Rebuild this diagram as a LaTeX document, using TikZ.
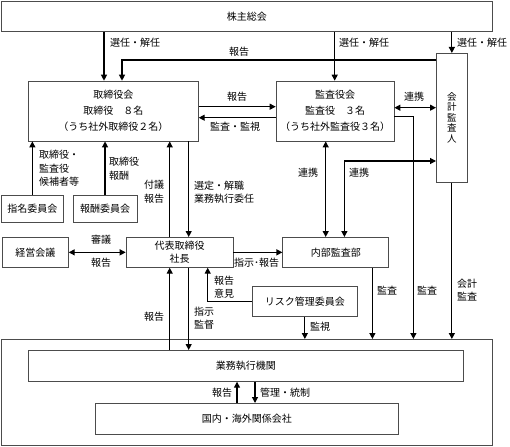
\documentclass[tikz,border=0pt]{standalone}
\usepackage{fontspec}
\setmainfont{Noto Sans CJK JP}
\usetikzlibrary{arrows.meta, positioning}
\tikzset{
    box/.style={rectangle, draw=black!70, line width=0.7pt, inner sep=0pt, align=center, font=\fontsize{10}{16}\selectfont},
    vbox/.style={box, font=\fontsize{9.5}{10.5}\selectfont},
    annot/.style={inner sep=0pt, anchor=west, align=left, font=\fontsize{10}{13.5}\selectfont},
    arrow/.style={-{Triangle[length=6pt, width=6pt]}, line width=1.2pt},
    bothways/.style={{Triangle[length=6pt, width=6pt]}-{Triangle[length=6pt, width=6pt]}, line width=1.2pt}
}

\begin{document}
\begin{tikzpicture}[x=1pt, y=-1pt]
    \useasboundingbox (0,0) rectangle (510,446);

    % Shareholders meeting (top)
    \node[box, anchor=north west, minimum width=491pt, minimum height=30pt] (kabunushi) at (1,1) {株主総会};

    % Board, auditors, accounting auditor
    \node[box, below right=49pt and 27pt of kabunushi.south west, minimum width=170pt, minimum height=60pt] (torishimari) {取締役会\\取締役　８名\\（うち社外取締役２名）};
    \node[box, right=77pt of torishimari.north east, anchor=north west, minimum width=118pt, minimum height=60pt] (kansayaku) {監査役会\\監査役　３名\\（うち社外監査役３名）};
    \node[vbox, anchor=north west, minimum width=31pt, minimum height=129pt] (kaikei) at (436,53) {会\\計\\監\\査\\人};

    % Committees
    \node[box, anchor=north west, minimum width=62pt, minimum height=27pt] (shimei) at (1,195) {指名委員会};
    \node[box, right=9pt of shimei, minimum width=64pt, minimum height=27pt] (hoshu) {報酬委員会};

    % Executive row
    \node[box, anchor=north west, minimum width=66pt, minimum height=30pt] (keiei) at (2,237) {経営会議};
    \node[box, right=57pt of keiei, minimum width=107pt, minimum height=30pt, font=\fontsize{10}{13}\selectfont] (daihyo) {代表取締役\\社長};
    \node[box, right=49pt of daihyo, minimum width=106pt, minimum height=30pt] (naibu) {内部監査部};
    \node[box, anchor=north west, minimum width=105pt, minimum height=30pt] (risk) at (252,286) {リスク管理委員会};

    % Business execution (bottom)
    \node[box, anchor=north west, minimum width=491pt, minimum height=106pt] (shikko) at (1,339) {};
    \node[box, anchor=north west, minimum width=435pt, minimum height=31pt] (gyomu) at (28,350) {業務執行機関};
    \node[box, anchor=north west, minimum width=303pt, minimum height=31pt] (kankei) at (95,403) {国内・海外関係会社};

    % Connector points
    \coordinate (t_sen) at ([xshift=76pt]torishimari.north west);
    \coordinate (t_hok) at ([xshift=94pt]torishimari.north west);
    \coordinate (k_sen) at ([xshift=59pt]kansayaku.north west);
    \coordinate (a_hok) at ([yshift=-7pt]kaikei.north west);
    \coordinate (k_ren) at ([yshift=-27pt]kansayaku.north east);
    \coordinate (k_out) at ([yshift=-36pt]kansayaku.north east);
    \coordinate (k_down) at ([xshift=19pt]kansayaku.north east);
    \coordinate (k_nai) at ([xshift=50pt]kansayaku.south west);
    \coordinate (n_ren) at ([xshift=62pt]naibu.north west);
    \coordinate (a_ren) at ([yshift=-108pt]kaikei.north west);
    \coordinate (n_kan) at ([xshift=90pt]naibu.south west);
    \coordinate (d_up) at ([xshift=44pt]daihyo.north west);
    \coordinate (d_down) at ([xshift=63pt]daihyo.north west);
    \coordinate (d_hok) at ([xshift=44pt]daihyo.south west);
    \coordinate (d_shi) at ([xshift=63pt]daihyo.south west);
    \coordinate (d_ike) at ([xshift=82pt]daihyo.south west);
    \coordinate (g_hok) at ([xshift=142pt]kankei.north west);
    \coordinate (g_kan) at ([xshift=160pt]kankei.north west);

    % Lines
    \draw[arrow] (kabunushi.south -| t_sen) -- (t_sen);
    \draw[arrow] (kabunushi.south -| k_sen) -- (k_sen);
    \draw[arrow] (kabunushi.south -| kaikei.north) -- (kaikei.north);
    \draw[arrow] (a_hok) -| (t_hok);
    \draw[arrow] ([yshift=-26pt]torishimari.north east) -- ([yshift=-26pt]kansayaku.north west);
    \draw[arrow] ([yshift=-37pt]kansayaku.north west) -- ([yshift=-37pt]torishimari.north east);
    \draw[bothways] (k_ren) -- (k_ren -| kaikei.west);
    \draw[arrow] (k_out) -- (k_out -| k_down) -- (k_down |- shikko.north);
    \draw[arrow] (kaikei.south) -- (kaikei.south |- shikko.north);
    \draw[bothways] (k_nai) -- (k_nai |- naibu.north);
    \draw[bothways] (n_ren) |- (a_ren);
    \draw[arrow] (n_kan) -- (n_kan |- shikko.north);
    \draw[arrow] (d_up) -- (d_up |- torishimari.south);
    \draw[arrow] (d_down |- torishimari.south) -- (d_down);
    \draw[arrow] (shimei.north) -- (shimei.north |- torishimari.south);
    \draw[arrow] (hoshu.north) -- (hoshu.north |- torishimari.south);
    \draw[bothways] (keiei.east) -- (daihyo.west);
    \draw[arrow] (daihyo.east) -- (naibu.west);
    \draw[arrow] (d_hok |- gyomu.north) -- (d_hok);
    \draw[arrow] (d_shi) -- (d_shi |- gyomu.north);
    \draw[arrow] (risk.west) -| (d_ike);
    \draw[arrow] (risk.south) -- (risk.south |- shikko.north);
    \draw[arrow] (g_hok) -- (g_hok |- gyomu.south);
    \draw[arrow] (g_kan |- gyomu.south) -- (g_kan);

    % Labels
    \node[annot] (lb_sen1) at (110,43) {選任・解任};
    \node[annot] (lb_sen2) at (339,43) {選任・解任};
    \node[annot] (lb_sen3) at (457,43) {選任・解任};
    \node[annot] (lb_hok1) at (229,52) {報告};
    \node[annot] (lb_hok2) at (227,97) {報告};
    \node[annot] (lb_kan1) at (210,127) {監査・監視};
    \node[annot] (lb_ren1) at (404,97) {連携};
    \node[annot] (lb_ren2) at (298,173) {連携};
    \node[annot] (lb_ren3) at (349,173) {連携};
    \node[annot] (lb_kan2) at (377,291) {監査};
    \node[annot] (lb_kan3) at (417,291) {監査};
    \node[annot] (lb_kan4) at (457,290) {会計\\監査};
    \node[annot] (lb_fug) at (144,191.5) {付議\\報告};
    \node[annot] (lb_sent) at (194,192.5) {選定・解職\\業務執行委任};
    \node[annot] (lb_kou) at (39,168.5) {取締役・\\監査役\\候補者等};
    \node[annot] (lb_hos) at (109,168.5) {取締役\\報酬};
    \node[annot] (lb_shin) at (91,240) {審議};
    \node[annot] (lb_hok3) at (91,263) {報告};
    \node[annot] (lb_shij) at (234,263) {指示･報告};
    \node[annot] (lb_hok4) at (144,317) {報告};
    \node[annot] (lb_kant) at (194,318) {指示\\監督};
    \node[annot] (lb_iken) at (214,287) {報告\\意見};
    \node[annot] (lb_kans) at (310,327) {監視};
    \node[annot] (lb_hok5) at (212,393) {報告};
    \node[annot] (lb_tou) at (260,393) {管理・統制};
\end{tikzpicture}
\end{document}
